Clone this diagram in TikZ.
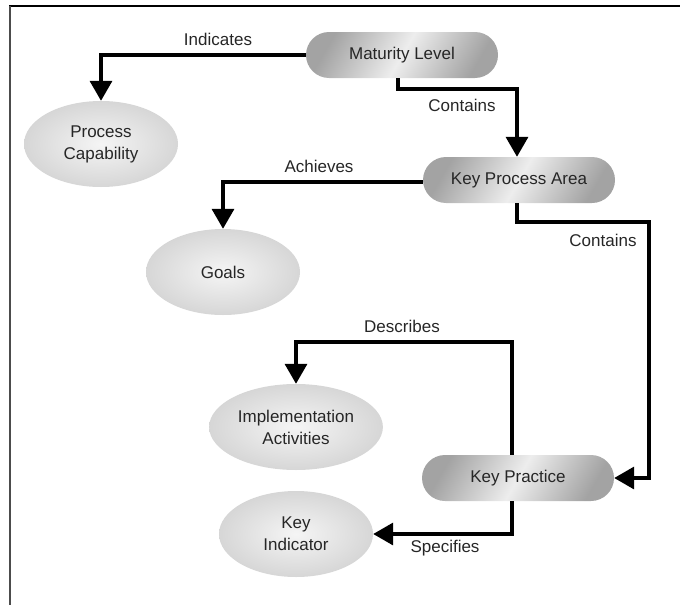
\documentclass[tikz,border=0pt]{standalone}
\usepackage{fontspec}
\setmainfont{Liberation Sans}
\usetikzlibrary{shapes.geometric,arrows.meta}

\begin{document}
\begin{tikzpicture}[x=1pt, y=-1pt, font=\fontsize{17}{22}\selectfont,
		level_style/.style={rectangle,rounded corners=23pt,minimum width=192pt,minimum height=46pt,left color=black!36,right color=black!36,middle color=black!7,shading angle=60,text=black!85},
		item_style/.style={ellipse,minimum width=154pt,minimum height=86pt,inner color=black!4,outer color=black!16,align=center,text=black!85},
		edge_style/.style={draw=black,line width=3.5pt,-{Triangle[length=20pt,width=22pt]}},
		label_style/.style={text=black!85}]

		\useasboundingbox (0,0) rectangle (680,605);
		\draw[black,line width=1.5pt] (9,6) -- (680,6);
		\draw[black!70,line width=2pt] (10,6) -- (10,605);

		\node[level_style] (ml) at (402,55)  {Maturity Level};
		\node[level_style] (kpa) at (519,180)  {Key Process Area};
		\node[level_style] (kp) at (518,478)  {Key Practice};
		\node[item_style] (pc) at (101,144)  {Process\\Capability};
		\node[item_style] (go) at (223,272)  {Goals};
		\node[item_style] (ia) at (296,427)  {Implementation\\Activities};
		\node[item_style] (ki) at (296,534)  {Key\\Indicator};
		\coordinate (turn) at ([xshift=35pt]kp.east);

		\node[label_style] (l1) at (218,39)  {Indicates};
		\node[label_style] (l2) at (462,105)  {Contains};
		\node[label_style] (l3) at (319,166)  {Achieves};
		\node[label_style] (l4) at (603,240)  {Contains};
		\node[label_style] (l5) at (402,326)  {Describes};
		\node[label_style] (l6) at (445,548)  {Specifies};

		\draw[edge_style]  (ml.west) -| (pc.north);
		\draw[edge_style]  ([xshift=-4pt]ml.south) -- ++(0,11) -| ([xshift=-2pt]kpa.north);
		\draw[edge_style]  ([yshift=-2pt]kpa.west) -| (go.north);
		\draw[edge_style]  ([xshift=-2pt]kpa.south) -- ++(0,19) -| (turn) -- (kp.east);
		\draw[edge_style]  ([xshift=-6pt]kp.north) -- ++(0,-113) -| (ia.north);
		\draw[edge_style]  ([xshift=-6pt]kp.south) |- (ki.east);
\end{tikzpicture}
\end{document}
